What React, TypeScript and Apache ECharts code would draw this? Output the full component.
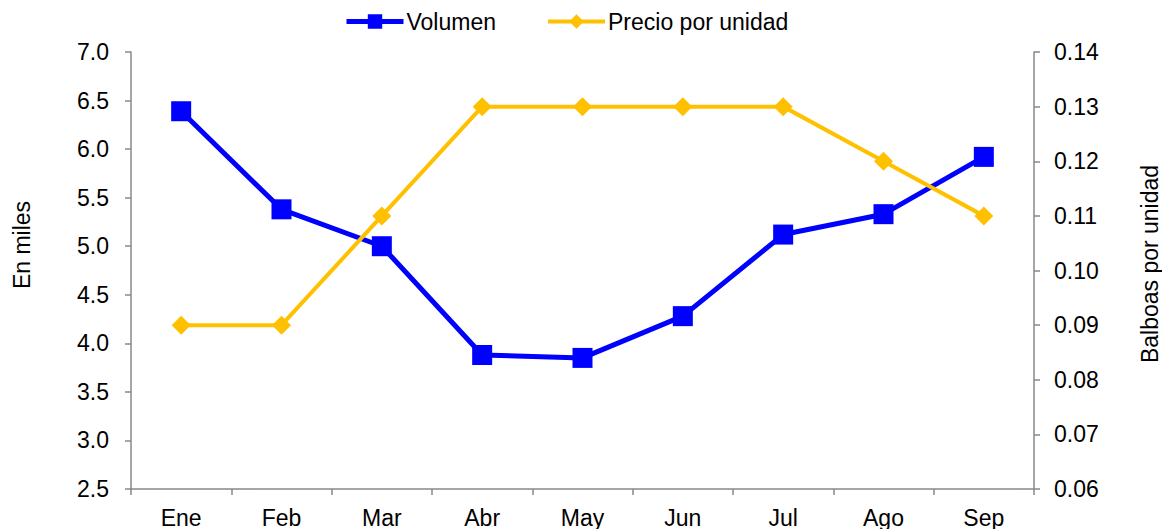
import React, { useEffect, useRef } from "react";
import * as echarts from "echarts";

const categories = ["Ene", "Feb", "Mar", "Abr", "May", "Jun", "Jul", "Ago", "Sep"];
const volumen = [6.39, 5.38, 5.0, 3.88, 3.85, 4.28, 5.12, 5.33, 5.92];
const precio = [0.09, 0.09, 0.11, 0.13, 0.13, 0.13, 0.13, 0.12, 0.11];
const leftAxisName = "En miles";
const rightAxisName = "Balboas por unidad";

const FONT = "Liberation Sans, Arial, sans-serif";
const FS = 23;

export default function App() {
  const ref = useRef<HTMLDivElement>(null);
  useEffect(() => {
    if (!ref.current) return;
    const chart = echarts.init(ref.current, null, { renderer: "svg" });
    const axisLine = { show: true, lineStyle: { color: "#888888", width: 1.5 } };
    const axisTick = { show: true, length: 6, lineStyle: { color: "#888888", width: 1.5 } };
    chart.setOption({
      animation: false,
      textStyle: { fontFamily: FONT },
      legend: {
        top: 5,
        left: 339,
        itemWidth: 57,
        itemHeight: 18,
        itemGap: 50,
        lineStyle: { width: "inherit" },
        textStyle: { fontSize: FS, color: "#000", fontFamily: FONT, padding: [0, 0, 0, -2] },
        data: ["Volumen", "Precio por unidad"],
      },
      grid: { left: 131, right: 128, top: 52, bottom: 40 },
      graphic: [
        {
          type: "text",
          x: 22,
          y: 245,
          rotation: Math.PI / 2,
          style: {
            text: leftAxisName,
            fontSize: FS,
            fontFamily: FONT,
            fill: "#000",
            align: "center",
            verticalAlign: "middle",
          },
        },
        {
          type: "text",
          x: 1150,
          y: 264,
          rotation: Math.PI / 2,
          style: {
            text: rightAxisName,
            fontSize: FS,
            fontFamily: FONT,
            fill: "#000",
            align: "center",
            verticalAlign: "middle",
          },
        },
      ],
      xAxis: {
        type: "category",
        data: categories,
        boundaryGap: true,
        axisLine,
        axisTick,
        axisLabel: { fontSize: FS, color: "#000", margin: 17, fontFamily: FONT },
      },
      yAxis: [
        {
          type: "value",
          min: 2.5,
          max: 7.0,
          interval: 0.5,
          axisLine,
          axisTick,
          splitLine: { show: false },
          axisLabel: {
            fontSize: FS,
            color: "#000",
            margin: 22,
            fontFamily: FONT,
            formatter: (v: number) => v.toFixed(1),
          },
        },
        {
          type: "value",
          min: 0.06,
          max: 0.14,
          interval: 0.01,
          axisLine,
          axisTick,
          splitLine: { show: false },
          axisLabel: {
            fontSize: FS,
            color: "#000",
            margin: 20,
            fontFamily: FONT,
            formatter: (v: number) => v.toFixed(2),
          },
        },
      ],
      series: [
        {
          name: "Volumen",
          type: "line",
          yAxisIndex: 0,
          data: volumen,
          symbol: "rect",
          symbolSize: 20,
          lineStyle: { color: "#0000FF", width: 5 },
          itemStyle: { color: "#0000FF" },
        },
        {
          name: "Precio por unidad",
          type: "line",
          yAxisIndex: 1,
          data: precio,
          symbol: "diamond",
          symbolSize: 19,
          lineStyle: { color: "#FFC000", width: 4 },
          itemStyle: { color: "#FFC000" },
        },
      ],
    });
    return () => chart.dispose();
  }, []);
  return <div ref={ref} style={{ width: 1162, height: 529, position: "absolute", left: 0, top: 0 }} />;
}
